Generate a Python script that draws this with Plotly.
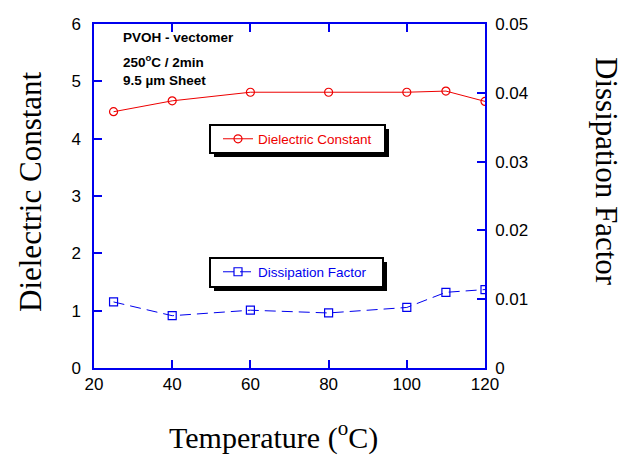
import plotly.graph_objects as go

# Measured values vs. temperature
temperature = [25, 40, 60, 80, 100, 110, 120]
dielectric_constant = [4.47, 4.66, 4.81, 4.81, 4.81, 4.83, 4.65]
dissipation_factor = [0.0096, 0.0076, 0.0084, 0.0080, 0.0088, 0.0110, 0.0114]

x_ticks = [20, 40, 60, 80, 100, 120]
y1_ticks = [0, 1, 2, 3, 4, 5, 6]
y2_ticks = [0, 0.01, 0.02, 0.03, 0.04, 0.05]
y2_labels = ["0", "0.01", "0.02", "0.03", "0.04", "0.05"]

W, H = 629, 456
L, R, T, B = 94, 144, 24, 88
PW, PH = W - L - R, H - T - B


def px(x):
    return (x - L) / PW


def py(y):
    return (H - B - y) / PH


BLUE = "#0000ee"
RED = "#ee0000"

fig = go.Figure()

fig.add_trace(go.Scatter(
    x=temperature, y=dielectric_constant, name="Dielectric Constant",
    mode="lines+markers",
    line=dict(color=RED, width=1),
    marker=dict(symbol="circle-open", size=8, color=RED, line=dict(width=1.2)),
    legend="legend",
))

fig.add_trace(go.Scatter(
    x=temperature, y=dissipation_factor, name="Dissipation Factor",
    mode="lines+markers", yaxis="y2",
    line=dict(color=BLUE, width=1, dash="11px,6px"),
    marker=dict(symbol="square-open", size=8, color=BLUE, line=dict(width=1.2)),
    legend="legend2",
))

tick_font = dict(family="Arial, Liberation Sans", size=17, color="black")
title_font = dict(family="Times New Roman, Liberation Serif", size=31, color="black")

fig.update_layout(
    width=W, height=H,
    margin=dict(l=L, r=R, t=T, b=B),
    plot_bgcolor="white", paper_bgcolor="white",
    xaxis=dict(
        range=[20, 120], tickvals=x_ticks, ticktext=[str(v) for v in x_ticks],
        ticks="inside", ticklen=8, tickcolor=BLUE, tickwidth=1.5,
        showline=True, linecolor=BLUE, linewidth=1.5, mirror="ticks",
        showgrid=False, zeroline=False, tickfont=tick_font,
    ),
    yaxis=dict(
        range=[0, 6], tickvals=y1_ticks,
        ticks="inside", ticklen=8, tickcolor=BLUE, tickwidth=1.5,
        showline=True, linecolor=BLUE, linewidth=1.5, ticklabelstandoff=8,
        showgrid=False, zeroline=False, tickfont=tick_font,
    ),
    yaxis2=dict(
        range=[0, 0.05], tickvals=y2_ticks, ticktext=y2_labels,
        overlaying="y", side="right",
        ticks="inside", ticklen=8, tickcolor=BLUE, tickwidth=1.5,
        showline=True, linecolor=BLUE, linewidth=1.5, ticklabelstandoff=5,
        showgrid=False, zeroline=False, tickfont=tick_font,
    ),
    legend=dict(
        x=px(218), y=py(139), xanchor="left", yanchor="middle",
        bgcolor="rgba(0,0,0,0)", borderwidth=0,
        font=dict(family="Arial, Liberation Sans", size=13.5, color=RED),
    ),
    legend2=dict(
        x=px(218), y=py(272), xanchor="left", yanchor="middle",
        bgcolor="rgba(0,0,0,0)", borderwidth=0,
        font=dict(family="Arial, Liberation Sans", size=13.5, color=BLUE),
    ),
    showlegend=True,
)

# Legend frames with drop shadows
shapes = []
for (x0, y0, x1, y1) in [(210, 125, 385, 153), (210, 258, 383, 287)]:
    shapes.append(dict(type="rect", xref="paper", yref="paper", layer="above",
                       x0=px(x0 + 4), x1=px(x1 + 4), y0=py(y0 + 4), y1=py(y1 + 4),
                       fillcolor="black", line=dict(width=0)))
    shapes.append(dict(type="rect", xref="paper", yref="paper", layer="above",
                       x0=px(x0), x1=px(x1), y0=py(y0), y1=py(y1),
                       fillcolor="white", line=dict(color="black", width=2)))
fig.update_layout(shapes=shapes)

note_font = dict(family="Arial, Liberation Sans", size=13.5, color="black")
annotations = [
    dict(text="<b>PVOH - vectomer</b>", x=px(121), y=py(38)),
    dict(text="<b>250<sup>o</sup>C / 2min</b>", x=px(121), y=py(61)),
    dict(text="<b>9.5 µm Sheet</b>", x=px(121), y=py(81)),
]
for a in annotations:
    fig.add_annotation(xref="paper", yref="paper", xanchor="left", yanchor="middle",
                       showarrow=False, font=note_font, **a)

fig.add_annotation(text="Dielectric Constant", xref="paper", yref="paper",
                   x=px(30), y=py(192), textangle=-90, showarrow=False,
                   xanchor="center", yanchor="middle", font=title_font)
fig.add_annotation(text="Dissipation Factor", xref="paper", yref="paper",
                   x=px(607), y=py(171), textangle=90, showarrow=False,
                   xanchor="center", yanchor="middle", font=title_font)
fig.add_annotation(text="Temperature (<sup>o</sup>C)", xref="paper", yref="paper",
                   x=px(273), y=py(436), showarrow=False,
                   xanchor="center", yanchor="middle",
                   font=dict(family="Times New Roman, Liberation Serif", size=30, color="black"))

fig.write_html("out.html")
